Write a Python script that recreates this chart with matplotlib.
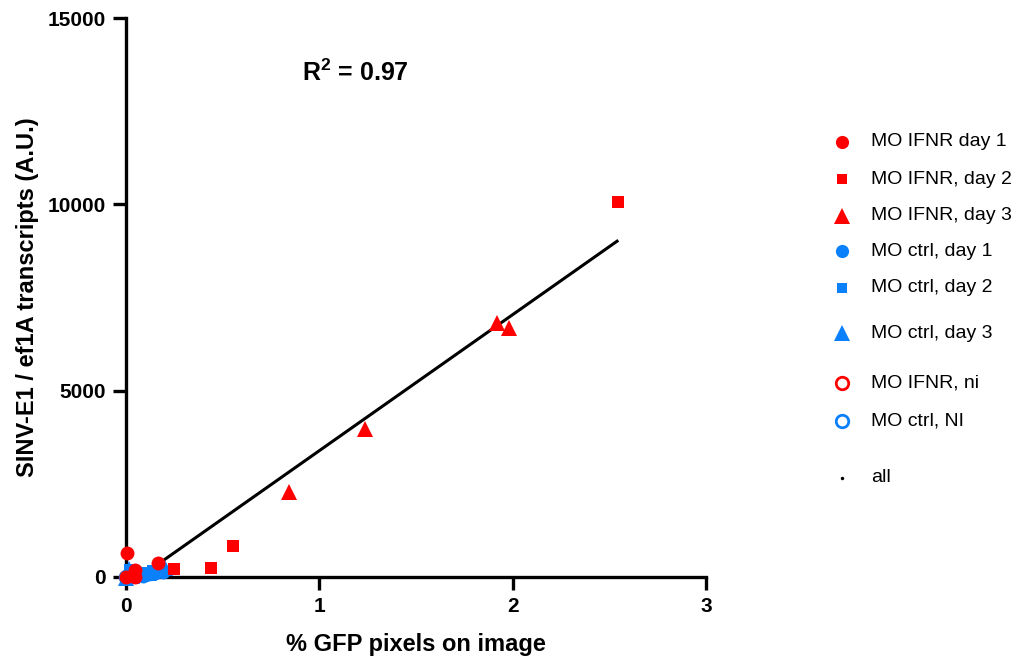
import matplotlib.pyplot as plt
from matplotlib.lines import Line2D

plt.rcParams['font.family'] = ['Liberation Sans', 'DejaVu Sans']
plt.rcParams['mathtext.fontset'] = 'custom'
plt.rcParams['mathtext.rm'] = 'Liberation Sans'
plt.rcParams['mathtext.bf'] = 'Liberation Sans:bold'

RED = '#FF0000'
BLUE = '#0A80FA'

# data: (% GFP pixels, SINV-E1/ef1A)
ifnr_d1_x = [0.005, 0.0, 0.047, 0.047, 0.166]
ifnr_d1_y = [650, 0, 10, 180, 370]
ifnr_d2_x = [0.248, 0.44, 0.553, 2.545]
ifnr_d2_y = [215, 240, 832, 10060]
ifnr_d3_x = [0.843, 1.236, 1.919, 1.981]
ifnr_d3_y = [2280, 3970, 6815, 6680]

ctrl_d1_x = [0.01, 0.03, 0.06, 0.09, 0.12, 0.15, 0.19]
ctrl_d1_y = [60, 130, 90, 40, 80, 120, 140]
ctrl_d2_x = [0.02, 0.07, 0.1, 0.14, 0.18]
ctrl_d2_y = [180, 50, 110, 160, 190]
ctrl_d3_x = [0.0, 0.015, 0.03, 0.08, 0.12, 0.2]
ctrl_d3_y = [-40, 220, 30, 70, 110, 250]

ifnr_ni_x = [0.0]
ifnr_ni_y = [0]
ctrl_ni_x = [0.0]
ctrl_ni_y = [0]

# linear fit shown on the chart
fit_slope = 3650
fit_intercept = -260
fit_x = [0.07, 2.54]

fig = plt.figure(figsize=(10.24, 6.59), dpi=100)
ax = fig.add_axes([126 / 1024, 1 - 577 / 659, 580 / 1024, 559 / 659])

ax.plot(fit_x, [fit_slope * x + fit_intercept for x in fit_x], color='black', lw=2.2, zorder=2)

kw = dict(linestyle='none', clip_on=False, zorder=3, markeredgewidth=0)
ax.plot(ifnr_ni_x, ifnr_ni_y, 'o', mfc='white', mec=RED, ms=9, mew=2, linestyle='none', clip_on=False, zorder=3)
ax.plot(ctrl_ni_x, ctrl_ni_y, 'o', mfc='white', mec=BLUE, ms=9, mew=2, linestyle='none', clip_on=False, zorder=3)
ax.plot(ctrl_d3_x, ctrl_d3_y, '^', color=BLUE, ms=11, **kw)
ax.plot(ctrl_d2_x, ctrl_d2_y, 's', color=BLUE, ms=8, **kw)
ax.plot(ctrl_d1_x, ctrl_d1_y, 'o', color=BLUE, ms=10, **kw)
ax.plot(ifnr_d1_x, ifnr_d1_y, 'o', color=RED, ms=10, **kw)
ax.plot(ifnr_d2_x, ifnr_d2_y, 's', color=RED, ms=8, **kw)
ax.plot(ifnr_d3_x, ifnr_d3_y, '^', color=RED, ms=11, **kw)

ax.set_xlim(0, 3)
ax.set_ylim(0, 15000)
ax.set_xticks([0, 1, 2, 3])
ax.set_yticks([0, 5000, 10000, 15000])
for s in ['top', 'right']:
    ax.spines[s].set_visible(False)
for s in ['left', 'bottom']:
    ax.spines[s].set_linewidth(2.4)
ax.tick_params(width=2.4, length=9.5, labelsize=15, pad=5)
for lab in ax.get_xticklabels() + ax.get_yticklabels():
    lab.set_fontweight('bold')

ax.set_xlabel('% GFP pixels on image', fontsize=17, fontweight='bold', labelpad=12)
ax.set_ylabel('SINV-E1 / ef1A transcripts (A.U.)', fontsize=17, fontweight='bold', labelpad=6)

fig.text(355 / 1024, 1 - 73 / 659, r'R$\mathbf{^2}$ = 0.97', fontsize=18, fontweight='bold',
         ha='center', va='center')

# legend, rows placed like the original (irregular spacing)
labels = ['MO IFNR day 1', 'MO IFNR, day 2', 'MO IFNR, day 3', 'MO ctrl, day 1',
          'MO ctrl, day 2', 'MO ctrl, day 3', 'MO IFNR, ni', 'MO ctrl, NI', 'all']
markers = ['o', 's', '^', 'o', 's', '^', 'o', 'o', 'o']
colors = [RED, RED, RED, BLUE, BLUE, BLUE, RED, BLUE, 'black']
filled = [True] * 6 + [False, False, True]
sizes = [9.5, 7.5, 11, 9.5, 7.5, 11, 9, 9, 2.5]
row_y = [142, 179, 216, 251, 288, 333, 383, 421, 478]

lax = fig.add_axes([0, 0, 1, 1])
lax.set_xlim(0, 1024)
lax.set_ylim(659, 0)
lax.axis('off')
for lab, m, c, f, sz, yy in zip(labels, markers, colors, filled, sizes, row_y):
    if f:
        lax.add_line(Line2D([842], [yy], marker=m, color=c, ms=sz, mew=0, linestyle='none'))
    else:
        lax.add_line(Line2D([842], [yy], marker=m, mfc='white', mec=c, ms=sz, mew=2, linestyle='none'))
    lax.text(871, yy, lab, fontsize=14, va='center', ha='left')

fig.savefig('out.png', dpi=100)
